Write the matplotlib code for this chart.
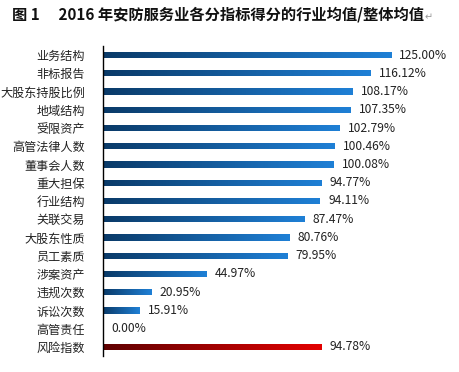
import numpy as np
import matplotlib
matplotlib.use("Agg")
import matplotlib.pyplot as plt
from matplotlib.colors import LinearSegmentedColormap

plt.rcParams['font.family'] = ['Noto Sans CJK SC', 'DejaVu Sans']

# data
categories = ["业务结构", "非标报告", "大股东持股比例", "地域结构", "受限资产",
              "高管法律人数", "董事会人数", "重大担保", "行业结构", "关联交易",
              "大股东性质", "员工素质", "涉案资产", "违规次数", "诉讼次数",
              "高管责任", "风险指数"]
values = [125.00, 116.12, 108.17, 107.35, 102.79, 100.46, 100.08, 94.77, 94.11,
          87.47, 80.76, 79.95, 44.97, 20.95, 15.91, 0.00, 94.78]
value_labels = ["125.00%", "116.12%", "108.17%", "107.35%", "102.79%", "100.46%",
                "100.08%", "94.77%", "94.11%", "87.47%", "80.76%", "79.95%",
                "44.97%", "20.95%", "15.91%", "0.00%", "94.78%"]

W, H = 460, 372
fig = plt.figure(figsize=(W / 100, H / 100), dpi=100)
ax = fig.add_axes([103 / W, 16 / H, 347 / W, 310 / H])

blue_cmap = LinearSegmentedColormap.from_list("blu", ["#0a3a68", "#1f80d6"])
red_cmap = LinearSegmentedColormap.from_list("red", ["#5e0000", "#e30000"])

y = np.arange(len(categories))
bars = ax.barh(y, values, height=0.34, color="none", edgecolor="none")
grad = np.linspace(0, 1, 256).reshape(1, -1)
for i, b in enumerate(bars):
    if values[i] <= 0:
        continue
    cmap = red_cmap if categories[i] == "风险指数" else blue_cmap
    x0, y0 = b.get_x(), b.get_y()
    im = ax.imshow(grad, cmap=cmap, aspect="auto",
                   extent=[x0, x0 + b.get_width(), y0 + b.get_height(), y0],
                   zorder=2)
    im.set_clip_path(b)

for i, v in enumerate(values):
    ax.text(v + 3.6, i, value_labels[i], va="center", ha="left",
            fontsize=8.7, color="#222222")

ax.set_xlim(0, 150.6)
ax.set_ylim(len(categories) - 0.5, -0.5)
ax.set_yticks(y)
ax.set_yticklabels(categories, fontsize=8.7, color="#222222")
ax.tick_params(axis="y", length=0, pad=13)
ax.set_xticks([])
for s in ["top", "right", "bottom"]:
    ax.spines[s].set_visible(False)
ax.spines["left"].set_linewidth(1.0)
ax.spines["left"].set_color("#000000")

t = fig.text(12 / W, 1 - 15 / H, "图 1　 2016 年安防服务业各分指标得分的行业均值/整体均值",
             fontsize=11, fontweight="bold", va="center", ha="left", color="#111111")
fig.canvas.draw()
bb = t.get_window_extent()
fig.text(bb.x1 / W + 0.002, 1 - 17 / H, "↵", fontsize=7, color="#999999",
         va="center", ha="left")

fig.savefig("out.png", dpi=100, facecolor="white")
